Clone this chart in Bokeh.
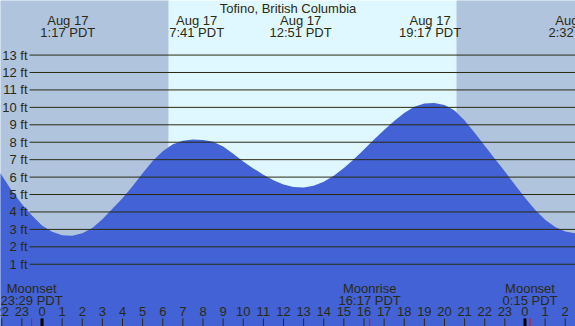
from bokeh.plotting import figure
from bokeh.models import Range1d
from bokeh.core.properties import value
from bokeh.embed import file_html
from bokeh.resources import INLINE

# ---------------- data ----------------
title = "Tofino, British Columbia"

# tide height (ft), every half hour (hours since Aug 17 00:00 PDT)
tide_hours = [-2.5, -2.0, -1.5, -1.0, -0.5, 0.0, 0.5, 1.0, 1.5, 2.0, 2.5, 3.0, 3.5, 4.0,
              4.5, 5.0, 5.5, 6.0, 6.5, 7.0, 7.5, 8.0, 8.5, 9.0, 9.5, 10.0, 10.5, 11.0,
              11.5, 12.0, 12.5, 13.0, 13.5, 14.0, 14.5, 15.0, 15.5, 16.0, 16.5, 17.0,
              17.5, 18.0, 18.5, 19.0, 19.5, 20.0, 20.5, 21.0, 21.5, 22.0, 22.5, 23.0,
              23.5, 24.0, 24.5, 25.0, 25.5, 26.0, 26.5, 27.0]
tide_feet = [6.98, 6.10, 5.22, 4.45, 3.80, 3.22, 2.86, 2.66, 2.63, 2.78, 3.08, 3.58, 4.18, 4.78,
             5.48, 6.22, 6.92, 7.48, 7.88, 8.08, 8.16, 8.13, 8.03, 7.76, 7.34, 6.90, 6.50, 6.14,
             5.82, 5.57, 5.43, 5.40, 5.50, 5.74, 6.08, 6.52, 7.02, 7.58, 8.15, 8.70,
             9.22, 9.68, 10.03, 10.22, 10.25, 10.14, 9.82, 9.24, 8.55, 7.80, 7.05, 6.32,
             5.56, 4.82, 4.12, 3.56, 3.14, 2.88, 2.78, 2.80]

# high / low tide events
extreme_hours = [1 + 17/60, 7 + 41/60, 12 + 51/60, 19 + 17/60, 24 + 2 + 32/60]
extreme_dates = ["Aug 17", "Aug 17", "Aug 17", "Aug 17", "Aug 18"]
extreme_times = ["1:17 PDT", "7:41 PDT", "12:51 PDT", "19:17 PDT", "2:32 PDT"]

# sun
sunrise_hour = 6 + 17/60
sunset_hour = 20 + 36/60

# moon events
moon_hours = [-1 + 29/60, 16 + 17/60, 24 + 15/60]
moon_names = ["Moonset", "Moonrise", "Moonset"]
moon_times = ["23:29 PDT", "16:17 PDT", "0:15 PDT"]

# axes
feet_levels = list(range(1, 14))
feet_labels = [f"{f} ft" for f in feet_levels]
hour_ticks = list(range(-2, 27))
hour_labels = [str(h % 24) for h in hour_ticks]
midnights = [0, 24]

# ---------------- style ----------------
DAY = "#DFF7FF"
NIGHT = "#B0C4DE"
WATER = "#4262D6"
INK = "#2A2A12"
FONT = value("Liberation Sans")
FS = "13px"

X0, X1 = -2.062, 26.51
Y0, Y1 = -2.57, 16.13

p = figure(width=575, height=326, x_range=Range1d(X0, X1), y_range=Range1d(Y0, Y1),
           output_backend="svg", toolbar_location=None, x_axis_type=None, y_axis_type=None,
           min_border=0)
p.grid.visible = False
p.outline_line_color = None
p.background_fill_color = DAY
p.border_fill_color = DAY

# night shading
p.quad(left=[X0 - 1, sunset_hour], right=[sunrise_hour, X1 + 1],
       bottom=[Y0 - 1, Y0 - 1], top=[Y1 + 1, Y1 + 1],
       fill_color=NIGHT, line_color=None)

# tide
p.varea(x=tide_hours, y1=[Y0 - 1] * len(tide_hours), y2=tide_feet, fill_color=WATER)

# level lines
p.segment(x0=[-0.62] * len(feet_levels), x1=[X1 + 1] * len(feet_levels),
          y0=feet_levels, y1=feet_levels, line_color=INK, line_width=1)
p.text(x=[-0.72] * len(feet_levels), y=feet_levels, text=feet_labels,
       text_align="right", text_baseline="middle", text_font=FONT,
       text_font_size=FS, text_color=INK)

# title and extremes
p.text(x=[(X0 + X1) / 2], y=[15.67], text=[title], text_align="center",
       text_baseline="middle", text_font=FONT, text_font_size=FS, text_color=INK)
p.text(x=extreme_hours, y=[15.0] * len(extreme_hours), text=extreme_dates,
       text_align="center", text_baseline="middle", text_font=FONT,
       text_font_size=FS, text_color=INK)
p.text(x=extreme_hours, y=[14.32] * len(extreme_hours), text=extreme_times,
       text_align="center", text_baseline="middle", text_font=FONT,
       text_font_size=FS, text_color=INK)

# moon
p.text(x=moon_hours, y=[-0.40] * len(moon_hours), text=moon_names,
       text_align="center", text_baseline="middle", text_font=FONT,
       text_font_size=FS, text_color=INK)
p.text(x=moon_hours, y=[-1.06] * len(moon_hours), text=moon_times,
       text_align="center", text_baseline="middle", text_font=FONT,
       text_font_size=FS, text_color=INK)

# hour ticks
p.text(x=hour_ticks, y=[-1.72] * len(hour_ticks), text=hour_labels,
       text_align="center", text_baseline="middle", text_font=FONT,
       text_font_size=FS, text_color=INK)
p.segment(x0=hour_ticks, x1=hour_ticks, y0=[Y0 - 1] * len(hour_ticks),
          y1=[-2.11] * len(hour_ticks), line_color=INK, line_width=1)
p.segment(x0=midnights, x1=midnights, y0=[Y0 - 1] * 2, y1=[-2.11] * 2,
          line_color="#000000", line_width=3)
p.segment(x0=moon_hours, x1=moon_hours, y0=[Y0 - 1] * len(moon_hours),
          y1=[-2.11] * len(moon_hours), line_color="#FF0000", line_width=1)

open("out.html", "w").write(file_html(p, INLINE))
